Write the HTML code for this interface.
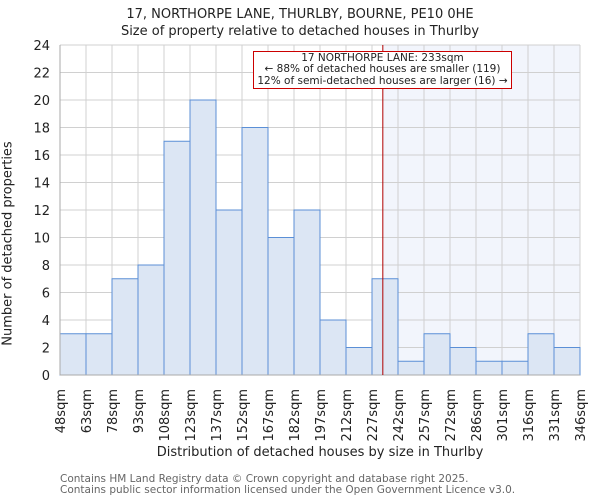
<!DOCTYPE html>
<html><head><meta charset="utf-8"><style>
body{margin:0;background:#fff;font-family:"DejaVu Sans","Liberation Sans",sans-serif;}
svg text{font-family:"DejaVu Sans","Liberation Sans",sans-serif;}
</style></head><body>
<svg id="c" width="600" height="500" xmlns="http://www.w3.org/2000/svg"></svg>
<script>
const categories=["48sqm","63sqm","78sqm","93sqm","108sqm","123sqm","137sqm","152sqm","167sqm","182sqm","197sqm","212sqm","227sqm","242sqm","257sqm","272sqm","286sqm","301sqm","316sqm","331sqm","346sqm"];
const counts=[3,3,7,8,17,20,12,18,10,12,4,2,7,1,3,2,1,1,3,2];
const yTicks=[0,2,4,6,8,10,12,14,16,18,20,22,24];
const markerSqm=233;
const sizeMin=48, sizeMax=346;
const L=60,R=580,T=45,B=375,yMax=24;
const NS="http://www.w3.org/2000/svg";
const svg=document.getElementById('c');
function X(i){return L+i*(R-L)/counts.length;}
function Y(v){return B-v*(B-T)/yMax;}
function XS(s){return L+(s-sizeMin)/(sizeMax-sizeMin)*(R-L);}
function el(t,a,p){const e=document.createElementNS(NS,t);for(const k in a)e.setAttribute(k,a[k]);(p||svg).appendChild(e);return e;}
const sh=el('rect',{x:XS(markerSqm),y:T,width:R-XS(markerSqm),height:B-T,fill:'#f2f5fc'});


yTicks.forEach(v=>{const g=el('line',{x1:L,x2:R,y1:Y(v),y2:Y(v),stroke:'#d0d0d0','stroke-width':1});

});
for(let i=0;i<=counts.length;i++){const g=el('line',{x1:X(i),x2:X(i),y1:T,y2:B,stroke:'#d0d0d0','stroke-width':1});

}
counts.forEach((v,i)=>{const b=el('rect',{x:X(i),y:Y(v),width:X(i+1)-X(i),height:B-Y(v),fill:'#dce6f4',stroke:'#5b8fd6','stroke-width':1});

});
const ax=el('line',{x1:L,x2:L,y1:T,y2:B,stroke:'#aaa'});


const axx=el('line',{x1:L,x2:R,y1:B,y2:B,stroke:'#aaa'});


yTicks.forEach(v=>{const t=el('text',{x:L-10,y:Y(v)+5,'text-anchor':'end','font-size':13,fill:'#222'});t.textContent=v;

});
categories.forEach((c,i)=>{const x=X(i)+5;const t=el('text',{x:x,y:389,'text-anchor':'end','font-size':13,fill:'#222',transform:`rotate(-90 ${x} 389)`});t.textContent=c;

});
const ml=el('line',{x1:XS(markerSqm),x2:XS(markerSqm),y1:T,y2:B,stroke:'#b00000','stroke-width':1});


</script>
<div style="position:absolute;left:0;top:0;width:600px;height:500px;pointer-events:none">
<div style="position:absolute;left:0;width:600px;top:6px;text-align:center;font-size:13px;color:#222;line-height:17px">17, NORTHORPE LANE, THURLBY, BOURNE, PE10 0HE<br>Size of property relative to detached houses in Thurlby</div>
<div style="position:absolute;left:253px;top:51px;width:257px;height:35px;border:1px solid #cc0000;background:#fff;text-align:center;font-size:10.5px;line-height:11.3px;color:#222;padding-top:1px;box-sizing:content-box">17 NORTHORPE LANE: 233sqm<br>← 88% of detached houses are smaller (119)<br>12% of semi-detached houses are larger (16) →</div>
<div style="position:absolute;left:-142px;top:236px;width:300px;text-align:center;font-size:13px;color:#222;white-space:nowrap;transform:rotate(-90deg)">Number of detached properties</div>
<div style="position:absolute;left:60px;width:520px;top:445px;text-align:center;font-size:13px;color:#222">Distribution of detached houses by size in Thurlby</div>
<div style="position:absolute;left:60px;top:474px;font-size:10.5px;line-height:11px;color:#666">Contains HM Land Registry data © Crown copyright and database right 2025.<br>Contains public sector information licensed under the Open Government Licence v3.0.</div>
</div>
</body></html>
